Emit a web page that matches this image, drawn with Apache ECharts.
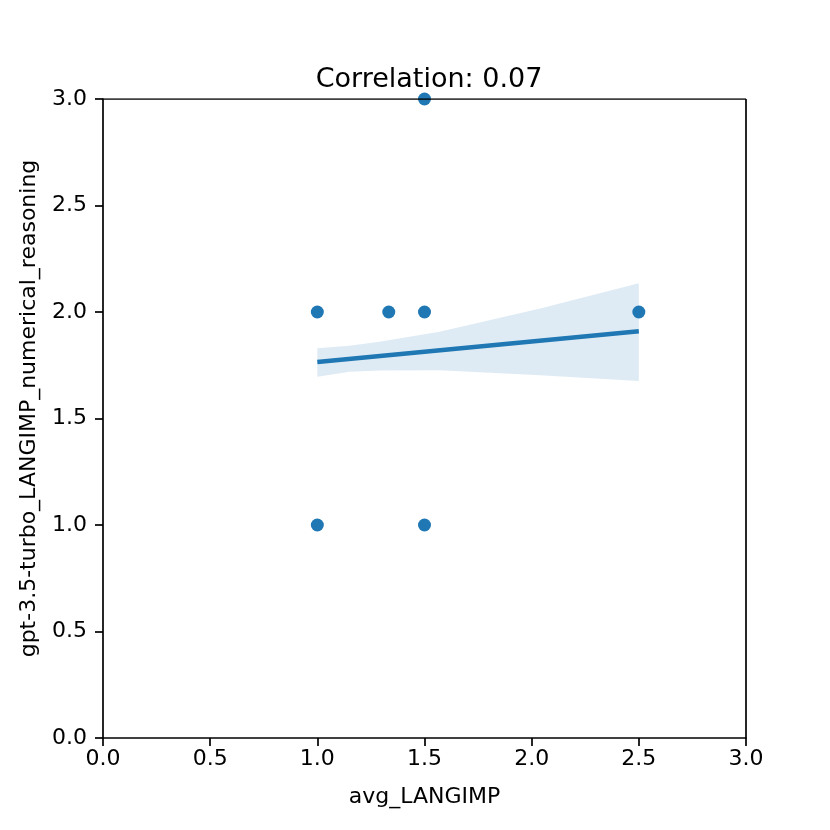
<!DOCTYPE html>
<html><head><meta charset="utf-8">
<script src="https://cdn.jsdelivr.net/npm/echarts@6/dist/echarts.min.js"></script>
<style>html,body{margin:0;padding:0;background:#fff}#c{width:830px;height:830px}</style>
</head><body><div id="c"></div>
<script>
const pointsX = [1.0, 1.0, 1.3333, 1.5, 1.5, 1.5, 2.5];
const pointsY = [2.0, 1.0, 2.0, 2.0, 3.0, 1.0, 2.0];
const fitX = [1.0, 2.5];
const fitY = [1.765, 1.91];
const bandX = [1.0, 1.15, 1.29, 1.57, 2.04, 2.5];
const bandUpper = [1.83, 1.842, 1.86, 1.907, 2.017, 2.135];
const bandLower = [1.696, 1.72, 1.725, 1.727, 1.703, 1.676];
const ticks = [0.0, 0.5, 1.0, 1.5, 2.0, 2.5, 3.0];

const chart = echarts.init(document.getElementById('c'));
const font = 'DejaVu Sans';
const axisCommon = {
  type: 'value', min: 0, max: 3, interval: 0.5,
  axisLine: {show: true, lineStyle: {color: '#000', width: 1.7}},
  axisTick: {show: true, inside: false, length: 8, lineStyle: {color: '#000', width: 1.7}},
  splitLine: {show: false},
  axisLabel: {color: '#000', fontSize: 22, fontFamily: font, formatter: v => v.toFixed(1)},
  nameTextStyle: {color: '#000', fontSize: 22, fontFamily: font}
};
chart.setOption({
  animation: false,
  title: {text: 'Correlation: 0.07', left: 424, top: 61, textAlign: 'center',
    textStyle: {color: '#000', fontSize: 27, fontWeight: 'normal', fontFamily: font}},
  grid: {left: 103, right: 84, top: 99, bottom: 92},
  xAxis: Object.assign({}, axisCommon, {name: 'avg_LANGIMP', nameLocation: 'middle', nameGap: 48,
    axisLabel: Object.assign({}, axisCommon.axisLabel, {margin: 10})}),
  yAxis: Object.assign({}, axisCommon, {name: 'gpt-3.5-turbo_LANGIMP_numerical_reasoning', nameLocation: 'middle', nameGap: 63,
    nameTextStyle: Object.assign({}, axisCommon.nameTextStyle, {padding: [0, 0, 0, 20]}),
    axisLabel: Object.assign({}, axisCommon.axisLabel, {margin: 16})}),
  series: [
    {type: 'custom', data: [0], z: 1, silent: true,
      renderItem: function (params, api) {
        const pts = [];
        for (let i = 0; i < bandX.length; i++) pts.push(api.coord([bandX[i], bandUpper[i]]));
        for (let i = bandX.length - 1; i >= 0; i--) pts.push(api.coord([bandX[i], bandLower[i]]));
        return {type: 'polygon', shape: {points: pts}, style: {fill: 'rgba(31,119,180,0.15)', stroke: null}};
      }},
    {type: 'scatter', data: pointsX.map((x, i) => [x, pointsY[i]]), symbolSize: 13,
      itemStyle: {color: '#1f77b4', opacity: 1}, z: 3},
    {type: 'line', data: fitX.map((x, i) => [x, fitY[i]]), showSymbol: false, symbol: 'none',
      lineStyle: {color: '#1f77b4', width: 4.5}, z: 4},
    {type: 'line', data: [[0, 3], [3, 3]], showSymbol: false, symbol: 'none', silent: true,
      lineStyle: {color: '#000', width: 1.7}, z: 5},
    {type: 'line', data: [[3, 0], [3, 3]], showSymbol: false, symbol: 'none', silent: true,
      lineStyle: {color: '#000', width: 1.7}, z: 5}
  ]
});
</script></body></html>
